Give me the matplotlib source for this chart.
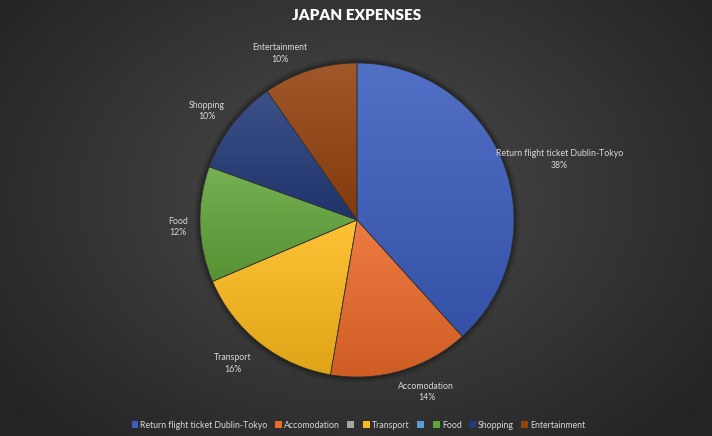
import numpy as np
import matplotlib
matplotlib.use("Agg")
import matplotlib.pyplot as plt
from matplotlib.patches import Patch, Circle
from matplotlib.colors import to_rgb
from matplotlib.transforms import offset_copy

plt.rcParams['font.family'] = ['Lato', 'DejaVu Sans']

categories = ["Return flight ticket Dublin-Tokyo", "Accomodation", "", "Transport", "", "Food", "Shopping", "Entertainment"]
values = [38.3, 14.4, 0, 15.9, 0, 11.9, 9.8, 9.7]
colors = ["#3A5DBE", "#EB6A28", "#A5A5A5", "#FDBA1A", "#5B9BD5", "#62A63A", "#223A78", "#94420F"]
# per-label radial distance (pie radius = 1) and angular nudge (deg)
label_dist = [1.35, 1.17, 1.2, 1.2, 1.2, 1.14, 1.19, 1.18]
label_nudge = [-4, 6, 0, -3, 0, 0, 1, 7]

W, H = 712, 436
fig = plt.figure(figsize=(W / 100, H / 100), dpi=100)

# radial gradient background
bg = fig.add_axes([0, 0, 1, 1])
yy, xx = np.mgrid[0:H, 0:W]
r = np.sqrt(((xx - W * 0.5) / (W * 0.62)) ** 2 + ((yy - H * 0.45) / (H * 0.75)) ** 2)
r = np.clip(r, 0, 1)
c_in = np.array([0x4c, 0x4c, 0x4c]) / 255
c_out = np.array([0x24, 0x24, 0x24]) / 255
img = c_in[None, None, :] * (1 - r[..., None]) + c_out[None, None, :] * r[..., None]
bg.imshow(img, extent=[0, 1, 0, 1], aspect='auto', zorder=0)
bg.axis('off')

cx, cy, R = 357, 220, 157
ax = fig.add_axes([(cx - R) / W, (H - cy - R) / H, 2 * R / W, 2 * R / H])
ax.set_xlim(-1, 1)
ax.set_ylim(-1, 1)
# soft shadow
for k, a in [(1.035, 0.10), (1.02, 0.15), (1.008, 0.2)]:
    ax.add_patch(Circle((0, 0.0), k, facecolor='black', alpha=a, edgecolor='none',
                        zorder=0, clip_on=False))
wedges, _ = ax.pie(values, colors=colors, startangle=90, counterclock=False,
                   radius=1, wedgeprops=dict(edgecolor="#333333", linewidth=0.5))
ax.set_xlim(-1, 1)
ax.set_ylim(-1, 1)
ax.set_aspect('equal')
ax.axis('off')

# vertical gradient fill inside each wedge
for w, c, v in zip(wedges, colors, values):
    if v == 0:
        continue
    base = np.array(to_rgb(c))
    top = base + (1 - base) * 0.12
    bot = base * 0.88
    ext = w.get_path().get_extents()
    t = np.linspace(0, 1, 128)[:, None]
    grad = top[None, :] * (1 - t) + bot[None, :] * t
    grad = grad[:, None, :].repeat(2, axis=1)
    im = ax.imshow(grad, extent=[ext.x0, ext.x1, ext.y0, ext.y1], origin='upper',
                   aspect='auto', zorder=w.get_zorder() + 0.01, interpolation='bilinear')
    im.set_clip_path(w)
    w.set_facecolor('none')
    w.set_zorder(w.get_zorder() + 0.02)
ax.set_xlim(-1, 1)
ax.set_ylim(-1, 1)

total = sum(values)
lbl_tr = offset_copy(ax.transData, fig=fig, x=0, y=-2, units='dots')
for w, name, v, d, nd in zip(wedges, categories, values, label_dist, label_nudge):
    if v == 0:
        continue
    mid = np.deg2rad((w.theta1 + w.theta2) / 2 + nd)
    ax.text(d * np.cos(mid), d * np.sin(mid), f"{name}\n{round(100 * v / total)}%",
            ha='center', va='center', color="#D9D9D9", fontsize=6.3, linespacing=1.4,
            clip_on=False, transform=lbl_tr)

fig.text(357 / W, 1 - 15 / H, "JAPAN EXPENSES", ha='center', va='center', color='white',
         fontsize=11, fontweight='heavy')

handles = [Patch(facecolor=c, edgecolor='none') for c in colors]
fig.legend(handles, categories, loc='center', bbox_to_anchor=(358.5 / W, 1 - 425 / H), ncol=8,
           frameon=False, fontsize=6.3, labelcolor="#D9D9D9", handlelength=0.75,
           handleheight=0.75, handletextpad=0.25, columnspacing=0.85)

fig.savefig("out.png", dpi=100)
